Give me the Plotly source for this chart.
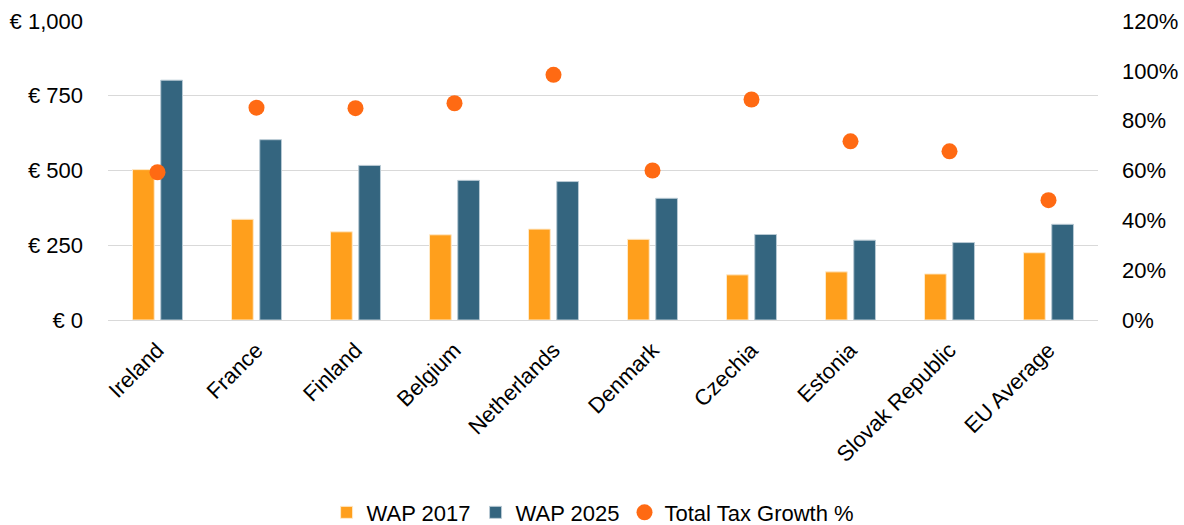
import plotly.graph_objects as go

countries = ["Ireland", "France", "Finland", "Belgium", "Netherlands", "Denmark",
             "Czechia", "Estonia", "Slovak Republic", "EU Average"]
wap_2017 = [503, 337, 295, 285, 304, 270, 151, 161, 154, 225]
wap_2025 = [802, 603, 517, 467, 463, 407, 286, 267, 259, 320]
tax_growth = [59.3, 85.2, 85.0, 87.0, 98.4, 60.0, 88.5, 71.7, 67.7, 48.1]

left_ticks = [0, 250, 500, 750, 1000]
left_labels = ["€ 0", "€ 250", "€ 500", "€ 750", "€ 1,000"]
right_ticks = [0, 20, 40, 60, 80, 100, 120]
right_labels = ["0%", "20%", "40%", "60%", "80%", "100%", "120%"]

FONT = "Liberation Sans, Arial, sans-serif"

fig = go.Figure()
fig.add_trace(go.Bar(x=countries, y=wap_2017, name="WAP 2017",
                     marker=dict(color="#FF9F1C", line=dict(color="#FFE9C8", width=1))))
fig.add_trace(go.Bar(x=countries, y=wap_2025, name="WAP 2025",
                     marker=dict(color="#34657F", line=dict(color="#B9CAD4", width=1))))
fig.add_trace(go.Scatter(x=countries, y=tax_growth, name="Total Tax Growth %", mode="markers",
                         yaxis="y2", marker=dict(color="#FF6A13", size=16)))

fig.update_layout(
    width=1184, height=525,
    margin=dict(l=108, r=86, t=21, b=205, autoexpand=False),
    paper_bgcolor="white", plot_bgcolor="white",
    font=dict(family=FONT, size=22, color="#000000"),
    barmode="group", bargap=0.43, bargroupgap=0.23,
    showlegend=True,
    legend=dict(orientation="h", x=0.49, xanchor="center", y=-0.644, yanchor="middle",
                font=dict(size=22), itemwidth=30, traceorder="normal"),
    xaxis=dict(range=[-0.5, len(countries) - 0.5], tickangle=-45, showgrid=False,
               showline=False, ticks="", tickfont=dict(size=22), ticklabelstandoff=12,
               automargin=False),
    yaxis=dict(range=[0, 1000], tickmode="array", tickvals=left_ticks, ticktext=left_labels,
               showgrid=True, gridcolor="#D9D9D9",
               gridwidth=1.3, zeroline=True, zerolinecolor="#D9D9D9", zerolinewidth=1.3,
               ticks="", ticklabelstandoff=24, automargin=False),
    yaxis2=dict(range=[0, 120], tickmode="array", tickvals=right_ticks, ticktext=right_labels,
                overlaying="y", side="right", showgrid=False, zeroline=False, ticks="",
                ticklabelstandoff=23, automargin=False),
)

fig.write_html("out.html")
